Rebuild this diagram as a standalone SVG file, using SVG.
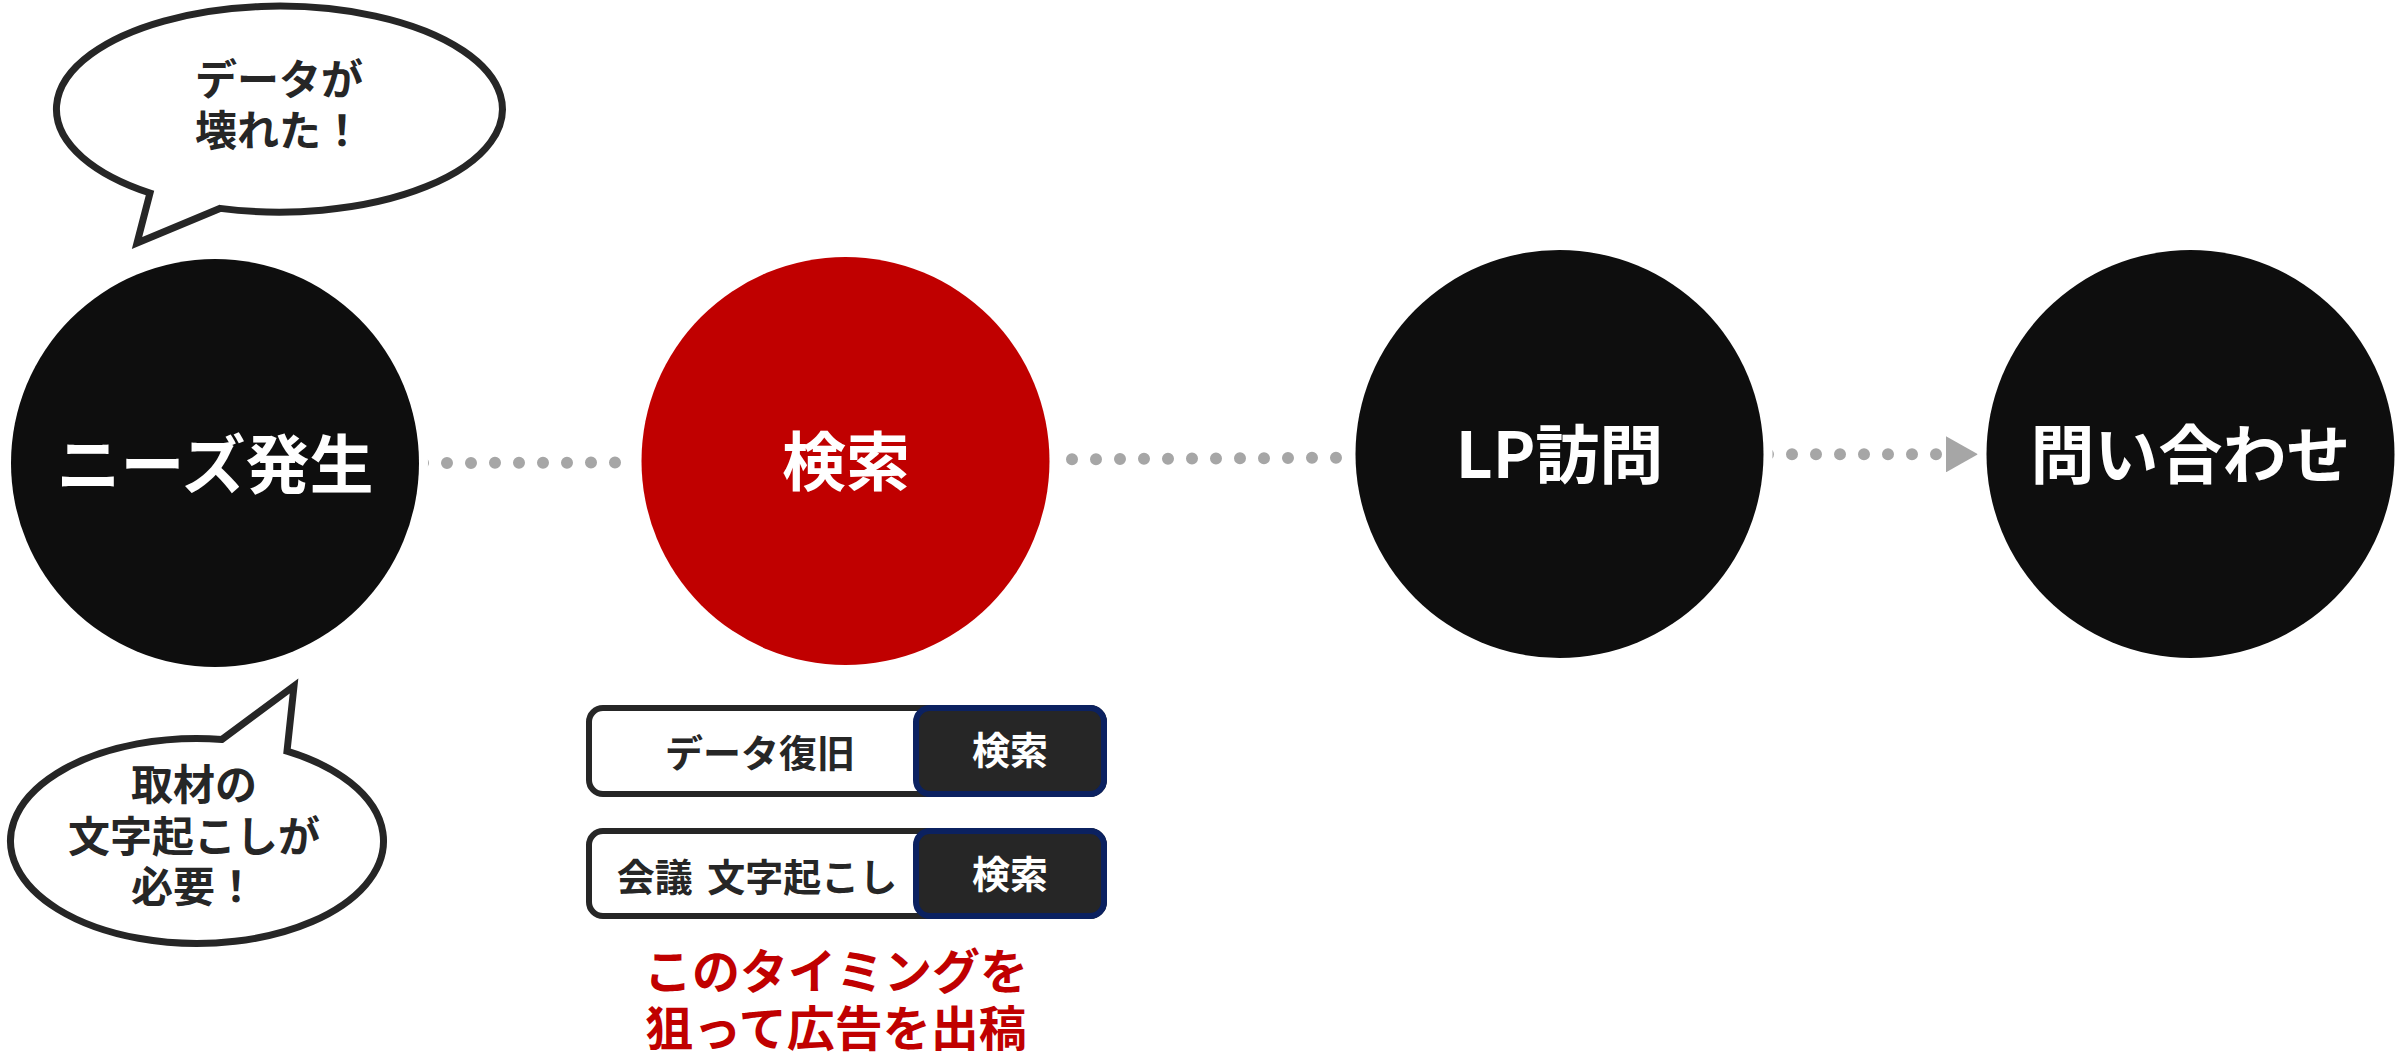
<svg xmlns="http://www.w3.org/2000/svg" width="2399" height="1053" viewBox="0 0 2399 1053">
  <defs>
    <marker id="arrow" markerUnits="userSpaceOnUse" markerWidth="32" markerHeight="36" viewBox="0 0 32 36" refX="0" refY="18" orient="auto">
      <path d="M0,0 L32,18 L0,36 Z" fill="#a6a6a6"/>
    </marker>
  </defs>
  <style>
    text { font-family: "Noto Sans CJK JP", "Noto Sans", sans-serif; font-weight: 700; text-anchor: middle; }
    .dots { fill: none; stroke: #a6a6a6; stroke-width: 12; stroke-linecap: round; stroke-dasharray: 0 24; }
    .circle { stroke: #ffffff; stroke-width: 18; paint-order: stroke; }
    .black { fill: #0e0e0e; }
    .red { fill: #c00000; }
    .label { fill: #ffffff; font-size: 64px; }
    .bubble { fill: #ffffff; stroke: #262626; stroke-width: 7; stroke-linejoin: miter; stroke-miterlimit: 10; }
    .btext { fill: #262626; font-size: 42px; }
    .box { fill: #ffffff; stroke: #262626; stroke-width: 6; }
    .btn { fill: #262626; stroke: #0b2160; stroke-width: 6; }
    .boxtext { fill: #262626; font-size: 38px; }
    .btntext { fill: #ffffff; font-size: 38px; }
    .note { fill: #c00000; font-size: 48px; }
  </style>

  <rect x="0" y="0" width="2399" height="1053" fill="#ffffff"/>

  <g id="connectors">
    <line class="dots" x1="423" y1="463" x2="640" y2="462.5"/>
    <line class="dots" x1="1072" y1="459.3" x2="1336" y2="457.7"/>
    <line class="dots" x1="1768" y1="454.3" x2="1946" y2="454.3" marker-end="url(#arrow)"/>
  </g>

  <g id="node-needs">
    <circle class="circle black" cx="215" cy="463" r="204"/>
    <text class="label" x="215" y="488">ニーズ発生</text>
  </g>

  <g id="node-search">
    <circle class="circle red" cx="845.5" cy="461" r="204"/>
    <text class="label" x="846" y="485">検索</text>
  </g>

  <g id="node-lp">
    <circle class="circle black" cx="1559.5" cy="454" r="204"/>
    <text class="label" x="1559.5" y="478">LP訪問</text>
  </g>

  <g id="node-inquiry">
    <circle class="circle black" cx="2190.5" cy="454" r="204"/>
    <text class="label" x="2190.5" y="478">問い合わせ</text>
  </g>

  <g id="bubble-data">
    <path class="bubble" d="M220,208.4 A223,103 0 1 0 150,193 L137,243 Z"/>
    <text class="btext"><tspan x="279" y="95">データが</tspan><tspan x="279" y="146">壊れた！</tspan></text>
  </g>

  <g id="bubble-transcribe">
    <path class="bubble" d="M222,739.4 L294,686 L287,751.2 A186.5,102.5 0 1 1 222,739.4 Z"/>
    <text class="btext"><tspan x="194" y="800">取材の</tspan><tspan x="194" y="852">文字起こしが</tspan><tspan x="194" y="902">必要！</tspan></text>
  </g>

  <g id="search-box-1">
    <rect class="box" x="589" y="708" width="515" height="86" rx="14"/>
    <rect class="btn" x="916" y="708" width="188" height="86" rx="14"/>
    <text class="boxtext" x="760" y="767">データ復旧</text>
    <text class="btntext" x="1010" y="764">検索</text>
  </g>

  <g id="search-box-2">
    <rect class="box" x="589" y="831" width="515" height="85" rx="14"/>
    <rect class="btn" x="916" y="831" width="188" height="85" rx="14"/>
    <text class="boxtext" x="757" y="891" word-spacing="6">会議 文字起こし</text>
    <text class="btntext" x="1010" y="888">検索</text>
  </g>

  <g id="note-timing">
    <text class="note"><tspan x="836" y="989">このタイミングを</tspan><tspan x="836" y="1046">狙って広告を出稿</tspan></text>
  </g>
</svg>
